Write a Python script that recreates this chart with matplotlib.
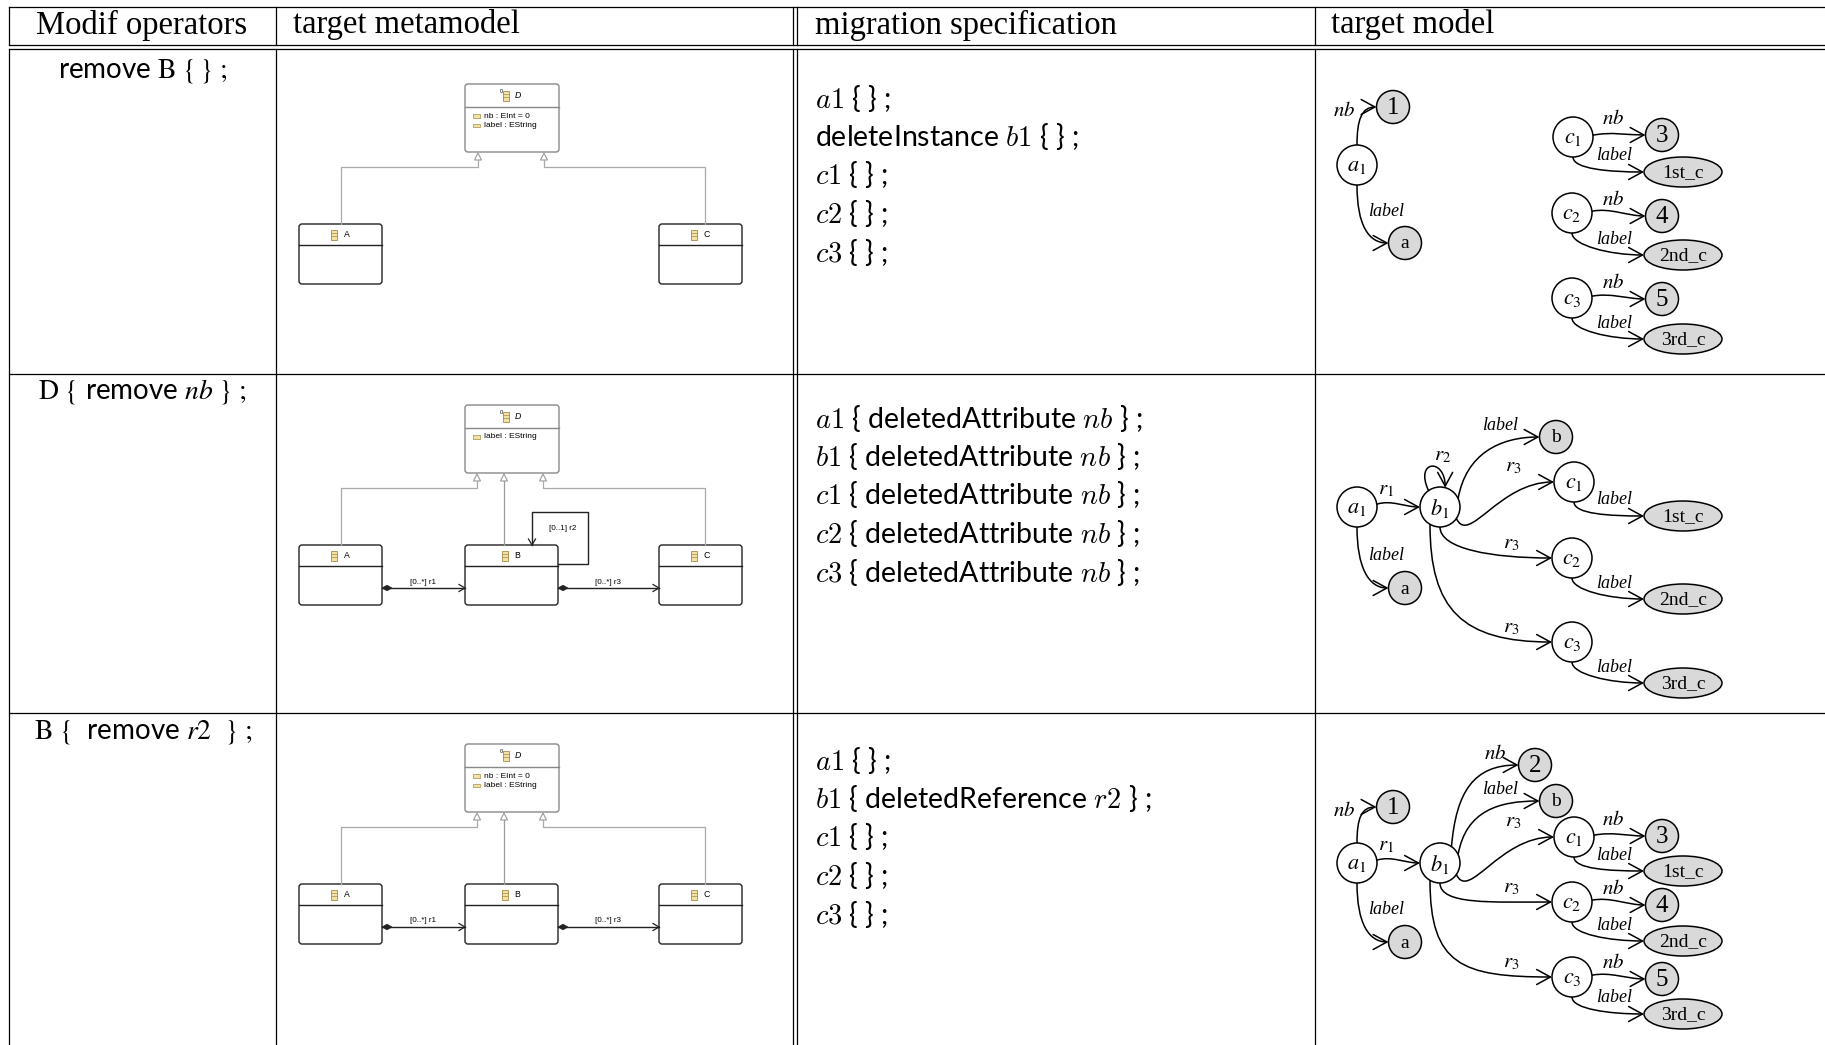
import numpy as np
import matplotlib
matplotlib.use('Agg')
import matplotlib.pyplot as plt
from matplotlib.patches import FancyBboxPatch, FancyArrowPatch, Circle, Ellipse, Rectangle, Polygon
from matplotlib.path import Path

W, H = 1825, 1045

# ---- table content ----
headers = ['Modif operators', 'target metamodel', 'migration specification', 'target model']
operators = [r'remove $\mathrm{B}\ \{\,\}\ ;$',
             r'$\mathrm{D}\ \{$ remove $nb\ \}\ ;$',
             r'$\mathrm{B}\ \{$  remove $r2\ \ \}\ ;$']
spec_rows = [
    [r'$a1$ { } ;', r'deleteInstance $b1$ { } ;', r'$c1$ { } ;', r'$c2$ { } ;', r'$c3$ { } ;'],
    [r'$%s$ { deletedAttribute $nb$ } ;' % n for n in ['a1', 'b1', 'c1', 'c2', 'c3']],
    [r'$a1$ { } ;', r'$b1$ { deletedReference $r2$ } ;', r'$c1$ { } ;', r'$c2$ { } ;', r'$c3$ { } ;'],
]

# ---- metamodels ----
mm_attrs = [['nb : EInt = 0', 'label : EString'], ['label : EString'], ['nb : EInt = 0', 'label : EString']]
mm_classes = [['A', 'C'], ['A', 'B', 'C'], ['A', 'B', 'C']]
mm_refs = [[], [('A', 'B', '[0..*] r1'), ('B', 'C', '[0..*] r3')], [('A', 'B', '[0..*] r1'), ('B', 'C', '[0..*] r3')]]
mm_self = [None, '[0..1] r2', None]

# ---- target models (object graphs) ----
node_text = {'a1': r'$a_{\mathit{1}}$', 'b1': r'$b_{\mathit{1}}$', 'c1': r'$c_{\mathit{1}}$',
             'c2': r'$c_{\mathit{2}}$', 'c3': r'$c_{\mathit{3}}$',
             'n1': '1', 'n2': '2', 'n3': '3', 'n4': '4', 'n5': '5', 'va': 'a', 'vb': 'b',
             's1': '1st_c', 's2': '2nd_c', 's3': '3rd_c'}
graph_edges = [
    [('a1', 'n1', 'nb'), ('a1', 'va', 'label'),
     ('c1', 'n3', 'nb'), ('c1', 's1', 'label'), ('c2', 'n4', 'nb'), ('c2', 's2', 'label'),
     ('c3', 'n5', 'nb'), ('c3', 's3', 'label')],
    [('a1', 'b1', 'r1'), ('a1', 'va', 'label'), ('b1', 'b1', 'r2'), ('b1', 'vb', 'label'),
     ('b1', 'c1', 'r3'), ('b1', 'c2', 'r3'), ('b1', 'c3', 'r3'),
     ('c1', 's1', 'label'), ('c2', 's2', 'label'), ('c3', 's3', 'label')],
    [('a1', 'n1', 'nb'), ('a1', 'b1', 'r1'), ('a1', 'va', 'label'), ('b1', 'n2', 'nb'), ('b1', 'vb', 'label'),
     ('b1', 'c1', 'r3'), ('b1', 'c2', 'r3'), ('b1', 'c3', 'r3'),
     ('c1', 'n3', 'nb'), ('c1', 's1', 'label'), ('c2', 'n4', 'nb'), ('c2', 's2', 'label'),
     ('c3', 'n5', 'nb'), ('c3', 's3', 'label')],
]
edge_text = {'nb': r'$nb$', 'label': 'label', 'r1': r'$r_{\mathit{1}}$', 'r2': r'$r_{\mathit{2}}$', 'r3': r'$r_{\mathit{3}}$'}

# layout of the graphs (pixel positions)
graph_pos = [
    {'a1': (1357, 165), 'n1': (1393, 107), 'va': (1405, 243),
     'c1': (1573, 137), 'n3': (1662, 135), 's1': (1683, 172),
     'c2': (1572, 213), 'n4': (1662, 216), 's2': (1683, 255),
     'c3': (1572, 298), 'n5': (1662, 299), 's3': (1683, 339)},
    {'a1': (1357, 507), 'va': (1405, 588), 'b1': (1440, 507), 'vb': (1556, 437),
     'c1': (1574, 482), 's1': (1683, 516), 'c2': (1572, 558), 's2': (1683, 599),
     'c3': (1572, 642), 's3': (1683, 683)},
    {'a1': (1357, 863), 'n1': (1393, 807), 'va': (1405, 942), 'b1': (1440, 863),
     'n2': (1535, 765), 'vb': (1556, 801),
     'c1': (1574, 837), 'n3': (1662, 836), 's1': (1683, 871),
     'c2': (1572, 902), 'n4': (1662, 905), 's2': (1683, 941),
     'c3': (1572, 977), 'n5': (1662, 979), 's3': (1683, 1014)},
]
# (start angle, start dir, end angle, end dir, handle0, handle1, label dx, label dy from target)
routes = {
    ('a1', 'n1'): (90, 90, 180, 0, 25, 15, -49, 3),
    ('a1', 'va'): (270, 270, 180, 0, 40, 20, -19, -32),
    ('a1', 'b1'): (8, 18, 180, 0, 15, 15, -54, -18),
    ('b1', 'b1'): (125, 115, 75, 270, 34, 30, 3, -52),
    ('b1', 'vb'): (25, 80, 180, 0, 45, 40, -56, -12),
    ('b1', 'n2'): (55, 85, 180, 0, 55, 45, -40, -12),
    ('b1', 'c1'): (-35, -65, 180, 0, 30, 55, -61, -16),
    ('b1', 'c2'): (270, 270, 180, 0, 22, 60, -61, -15),
    ('b1', 'c3'): (240, 270, 180, 0, 85, 90, -61, -15),
    ('c1', 'n3'): (5, 12, 180, 0, 18, 18, -49, -17),
    ('c2', 'n4'): (5, 12, 180, 0, 18, 18, -49, -17),
    ('c3', 'n5'): (5, 12, 180, 0, 18, 18, -49, -17),
    ('c1', 's1'): (270, 270, 180, 0, 12, 35, -69, -16),
    ('c2', 's2'): (270, 270, 180, 0, 12, 35, -69, -16),
    ('c3', 's3'): (270, 270, 180, 0, 12, 35, -69, -16),
}

SERIF = 'Liberation Serif'
SANS = 'Liberation Sans'


def unit(deg):
    a = np.radians(deg)
    return np.array([np.cos(a), -np.sin(a)])


def kind_of(name):
    if name[0] in 'abc':
        return 'obj'
    if name[0] == 's':
        return 'str'
    return 'val'


def boundary(pos, name, deg):
    x, y = pos[name]
    a = np.radians(deg)
    k = kind_of(name)
    if k == 'str':
        return np.array([x + 39 * np.cos(a), y - 15 * np.sin(a)])
    r = 20 if k == 'obj' else 16.5
    return np.array([x, y]) + r * unit(deg)


def draw_graph(ax, pos, edges):
    for name, (x, y) in pos.items():
        k = kind_of(name)
        if k == 'obj':
            ax.add_patch(Circle((x, y), 20, fc='white', ec='black', lw=1.1, zorder=3))
            ax.text(x, y + 1, node_text[name], fontsize=16, ha='center', va='center',
                    math_fontfamily='stix', zorder=4)
        elif k == 'val':
            ax.add_patch(Circle((x, y), 16.5, fc='#d9d9d9', ec='black', lw=1.1, zorder=3))
            fs = 18 if name[0] == 'n' else 14
            ax.text(x, y + 1, node_text[name], fontsize=fs, ha='center', va='center',
                    family=SERIF, zorder=4)
        else:
            ax.add_patch(Ellipse((x, y), 78, 30, fc='#d9d9d9', ec='black', lw=1.1, zorder=3))
            ax.text(x, y + 1, node_text[name], fontsize=14, ha='center', va='center',
                    family=SERIF, zorder=4)
    for src, dst, lab in edges:
        sa, sd, ta, td, h0, h1, ldx, ldy = routes[(src, dst)]
        p0 = boundary(pos, src, sa)
        p3 = boundary(pos, dst, ta)
        p1 = p0 + h0 * unit(sd)
        p2 = p3 - h1 * unit(td)
        path = Path([p0, p1, p2, p3], [Path.MOVETO, Path.CURVE4, Path.CURVE4, Path.CURVE4])
        ax.add_patch(FancyArrowPatch(path=path, arrowstyle='->,head_length=0.55,head_width=0.3',
                                     mutation_scale=18, lw=1.1, color='black', zorder=2))
        tx, ty = pos[dst]
        if lab == 'label':
            ax.text(tx + ldx, ty + ldy, 'label', fontsize=13, style='italic', family=SERIF,
                    ha='center', va='center', zorder=4)
        else:
            ax.text(tx + ldx, ty + ldy, edge_text[lab], fontsize=15, ha='center', va='center',
                    math_fontfamily='stix', zorder=4)


def class_icon(ax, x, y):
    ax.add_patch(Rectangle((x, y - 5), 6, 10, fc='#f2e2a6', ec='#a88a48', lw=0.6))
    ax.plot([x, x + 6], [y - 1.7, y - 1.7], color='#a88a48', lw=0.5)
    ax.plot([x, x + 6], [y + 1.7, y + 1.7], color='#a88a48', lw=0.5)


def class_box(ax, x0, y0, x1, y1, name, attrs=(), italic=False, edge='#333333', head=21):
    ax.add_patch(FancyBboxPatch((x0, y0), x1 - x0, y1 - y0, boxstyle='round,pad=0,rounding_size=3',
                                fc='white', ec=edge, lw=1.0))
    ax.plot([x0, x1], [y0 + head, y0 + head], color=edge, lw=1.0)
    cx = (x0 + x1) / 2
    class_icon(ax, cx - 9, y0 + head / 2)
    ax.text(cx + 3, y0 + head / 2, name, fontsize=6.3, family=SANS, ha='left', va='center',
            style='italic' if italic else 'normal')
    if italic:
        ax.text(cx - 11, y0 + head / 2 - 4, '0', fontsize=4, family=SANS, ha='center', va='center')
    for i, a in enumerate(attrs):
        ya = y0 + head + 9 + i * 9.5
        ax.add_patch(Rectangle((x0 + 8, ya - 1.8), 7, 3.6, fc='#f2e2a6', ec='#a88a48', lw=0.5))
        ax.text(x0 + 19, ya, a, fontsize=6, family=SANS, ha='left', va='center')


def draw_metamodel(ax, top, attrs, classes, refs, selfref):
    dx0, dx1 = 465, 559
    dbot = top + 68
    class_box(ax, dx0, top, dx1, dbot, 'D', attrs, italic=True, edge='#888888', head=23)
    btop, bbot = dbot + 72, dbot + 132
    hy = dbot + 15
    xs = {'A': (299, 382), 'B': (465, 558), 'C': (659, 742)}
    line_x = {'A': 341, 'B': 504, 'C': 705}
    tri_x = {'A': 477, 'B': 504, 'C': 543} if 'B' in classes else {'A': 478, 'C': 544}
    for c in classes:
        tx = tri_x[c]
        ax.add_patch(Polygon([[tx, dbot + 1], [tx - 3.5, dbot + 8], [tx + 3.5, dbot + 8]],
                             closed=True, fc='white', ec='#999999', lw=0.8))
        if c == 'B':
            ax.plot([tx, tx], [dbot + 8, btop], color='#999999', lw=0.9)
        else:
            lx = line_x[c]
            ax.plot([tx, tx, lx, lx], [dbot + 8, hy, hy, btop], color='#aaaaaa', lw=0.9)
        x0, x1 = xs[c]
        class_box(ax, x0, btop, x1, bbot, c, edge='#222222')
    ry = btop + 43
    for s, t, lab in refs:
        xa, xb = xs[s][1], xs[t][0]
        ax.plot([xa, xb], [ry, ry], color='#222222', lw=1.0)
        ax.add_patch(Polygon([[xa, ry], [xa + 5, ry - 2.8], [xa + 10, ry], [xa + 5, ry + 2.8]],
                             closed=True, fc='#222222', ec='#222222', lw=0.5))
        ax.plot([xb - 6, xb, xb - 6], [ry - 3.5, ry, ry + 3.5], color='#222222', lw=0.9)
        ax.text((xa + xb) / 2, ry - 6, lab, fontsize=5.8, family=SANS, ha='center', va='center')
    if selfref:
        ax.plot([558, 588, 588, 532, 532], [btop + 19, btop + 19, btop - 33, btop - 33, btop],
                color='#222222', lw=1.0)
        ax.plot([528.5, 532, 535.5], [btop - 6, btop, btop - 6], color='#222222', lw=0.9)
        ax.text(563, btop - 16, selfref, fontsize=5.8, family=SANS, ha='center', va='center')


fig = plt.figure(figsize=(18.25, 10.45), dpi=100)
ax = fig.add_axes([0, 0, 1, 1])
ax.set_xlim(0, W)
ax.set_ylim(H, 0)
ax.axis('off')

# grid of the table
lw = 0.9
for y in [7, 45, 49, 374, 713]:
    ax.plot([9, W], [y, y], color='black', lw=lw)
for x in [9, 276, 793, 797, 1315]:
    ax.plot([x, x], [7, 45], color='black', lw=lw)
    ax.plot([x, x], [49, H], color='black', lw=lw)

for x, h in zip([36, 293, 815, 1331], headers):
    ax.text(x, 25, h, fontsize=23.5, family=SERIF, ha='left', va='center')

op_y = [71, 392, 732]
for y, op in zip(op_y, operators):
    ax.text(143, y, op, fontsize=20, family='Lato', ha='center', va='center', math_fontfamily='stix')

spec_y0 = [98, 418, 760]
for y0, lines in zip(spec_y0, spec_rows):
    for i, s in enumerate(lines):
        ax.text(815, y0 + i * 38.5, s, fontsize=20.5, family='Lato', ha='left', va='center',
                math_fontfamily='cm')

for top, at, cl, rf, sr in zip([84, 405, 744], mm_attrs, mm_classes, mm_refs, mm_self):
    draw_metamodel(ax, top, at, cl, rf, sr)

for pos, edges in zip(graph_pos, graph_edges):
    draw_graph(ax, pos, edges)

fig.savefig('out.png', dpi=100)
